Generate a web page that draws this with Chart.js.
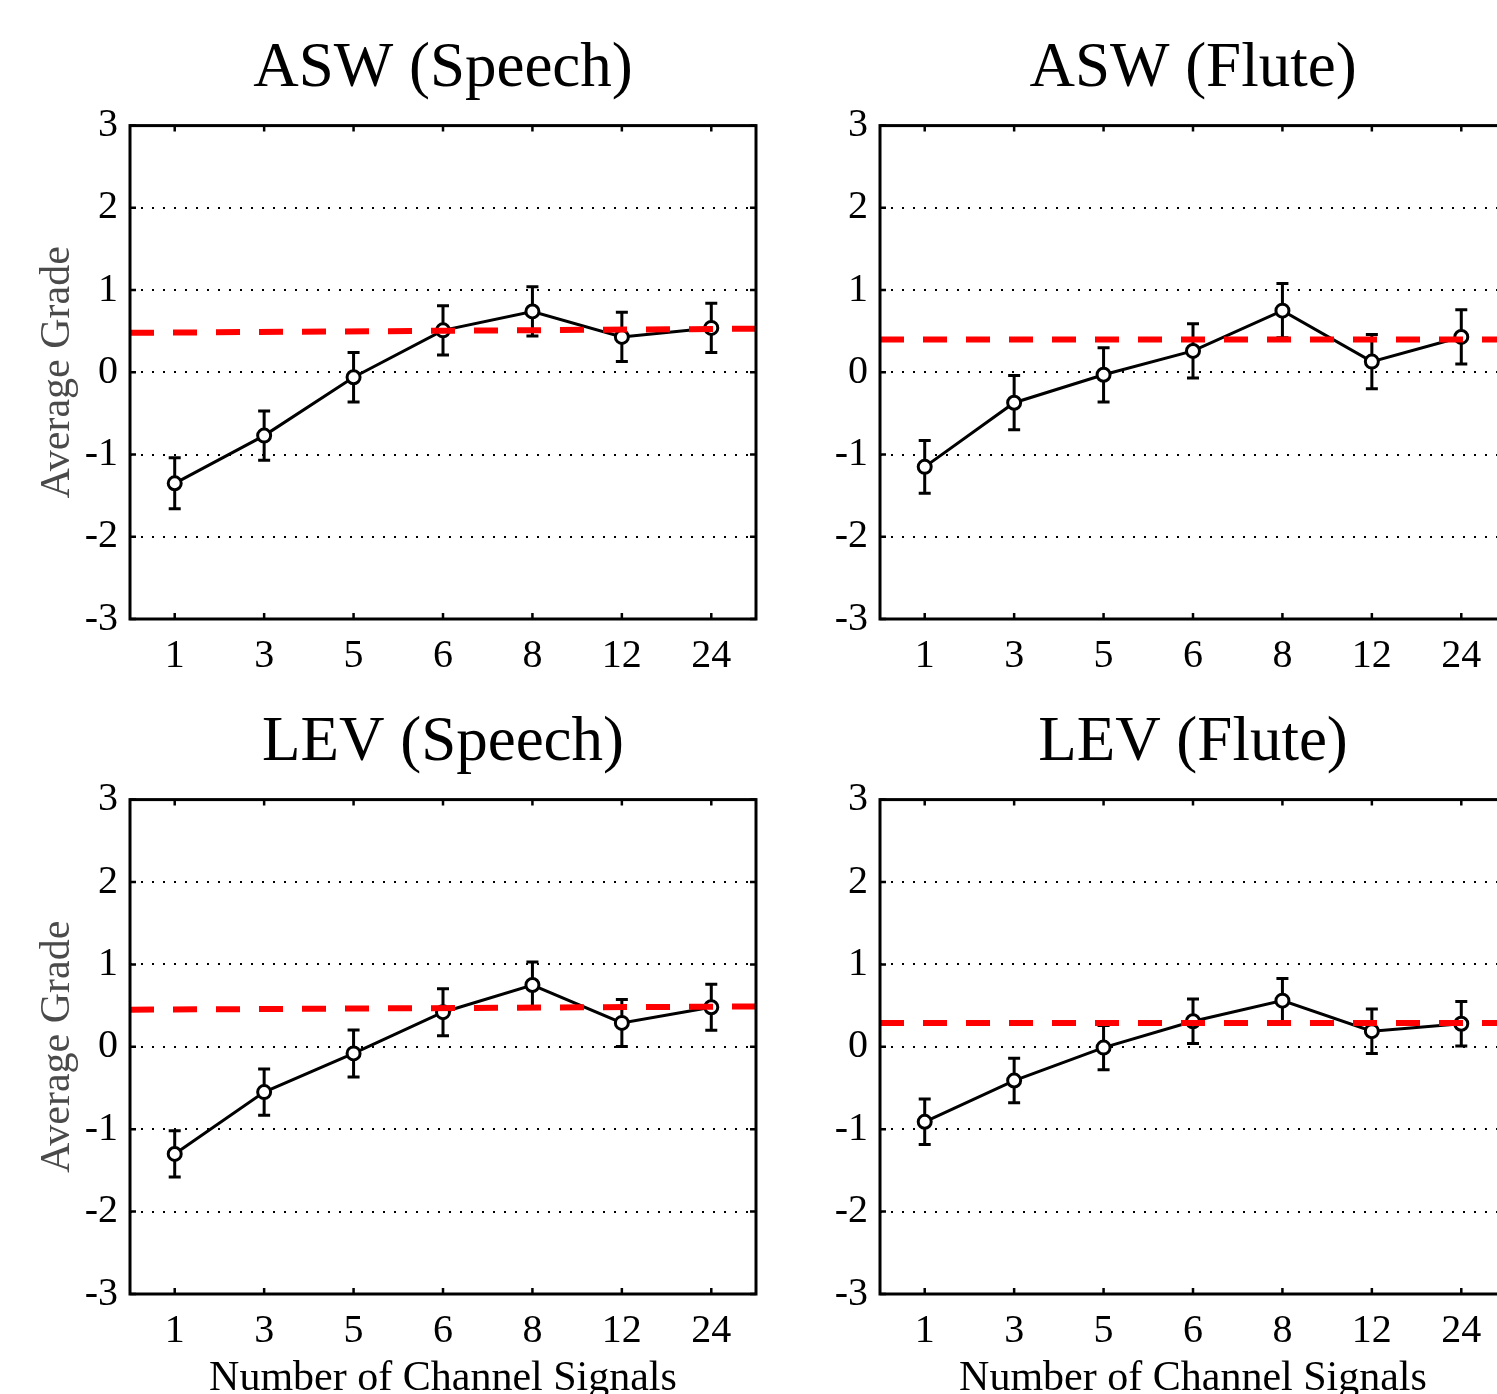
<!DOCTYPE html>
<html>
<head>
<meta charset="utf-8">
<script src="https://cdn.jsdelivr.net/npm/chart.js@4.4.0/dist/chart.umd.min.js"></script>
<style>
  html, body { margin: 0; padding: 0; background: #fff; overflow: hidden; }
  body { width: 1497px; height: 1394px; position: relative; }
  canvas { position: absolute; }
</style>
</head>
<body>
<canvas id="aswSpeech" width="770" height="674" style="left:0px;top:0px"></canvas>
<canvas id="aswFlute" width="746" height="674" style="left:770px;top:0px"></canvas>
<canvas id="levSpeech" width="770" height="740" style="left:0px;top:674px"></canvas>
<canvas id="levFlute" width="746" height="740" style="left:770px;top:674px"></canvas>
<script>
// number of channel signals (x categories)
const channels = ['1', '3', '5', '6', '8', '12', '24'];
const gradeTicks = [-3, -2, -1, 0, 1, 2, 3];

// average grades, error bar half-lengths, red reference line (left end, right end)
const aswSpeechVals = [-1.35, -0.77, -0.06, 0.51, 0.74, 0.43, 0.54];
const aswSpeechErr  = [0.31, 0.30, 0.30, 0.30, 0.30, 0.30, 0.30];
const aswSpeechRef  = [0.48, 0.53];

const aswFluteVals = [-1.15, -0.37, -0.03, 0.26, 0.75, 0.13, 0.43];
const aswFluteErr  = [0.32, 0.33, 0.33, 0.33, 0.33, 0.33, 0.33];
const aswFluteRef  = [0.40, 0.40];

const levSpeechVals = [-1.30, -0.55, -0.08, 0.42, 0.75, 0.29, 0.48];
const levSpeechErr  = [0.28, 0.28, 0.285, 0.285, 0.28, 0.285, 0.28];
const levSpeechRef  = [0.45, 0.49];

const levFluteVals = [-0.91, -0.41, -0.01, 0.31, 0.56, 0.19, 0.28];
const levFluteErr  = [0.275, 0.27, 0.27, 0.27, 0.27, 0.27, 0.27];
const levFluteRef  = [0.29, 0.29];

const serif = '"Liberation Serif", "Times New Roman", serif';

// error bars + box frame with inner ticks
const framePlugin = {
  id: 'frame',
  beforeDatasetsDraw(chart) {
    const ctx = chart.ctx;
    const ys = chart.scales.y;
    const ds = chart.data.datasets[0];
    const meta = chart.getDatasetMeta(0);
    ctx.save();
    ctx.strokeStyle = '#000';
    ctx.lineWidth = 3;
    meta.data.forEach((pt, i) => {
      const v = ds.data[i].y, e = ds.errors[i];
      const y1 = ys.getPixelForValue(v + e);
      const y2 = ys.getPixelForValue(v - e);
      ctx.beginPath();
      ctx.moveTo(pt.x, y1); ctx.lineTo(pt.x, y2);
      ctx.moveTo(pt.x - 6, y1); ctx.lineTo(pt.x + 6, y1);
      ctx.moveTo(pt.x - 6, y2); ctx.lineTo(pt.x + 6, y2);
      ctx.stroke();
    });
    ctx.restore();
  },
  afterDatasetsDraw(chart) {
    const {ctx, chartArea: a, scales} = chart;
    ctx.save();
    ctx.strokeStyle = '#000';
    ctx.lineWidth = 3;
    ctx.strokeRect(a.left, a.top, a.right - a.left, a.bottom - a.top);
    ctx.lineWidth = 2.5;
    ctx.beginPath();
    scales.x.ticks.forEach(t => {
      const x = scales.x.getPixelForValue(t.value);
      ctx.moveTo(x, a.bottom); ctx.lineTo(x, a.bottom - 6);
      ctx.moveTo(x, a.top); ctx.lineTo(x, a.top + 6);
    });
    scales.y.ticks.forEach(t => {
      const y = scales.y.getPixelForValue(t.value);
      ctx.moveTo(a.left, y); ctx.lineTo(a.left + 6, y);
      ctx.moveTo(a.right, y); ctx.lineTo(a.right - 6, y);
    });
    ctx.stroke();
    ctx.restore();
  }
};

function makePanel(id, title, vals, errs, ref, yW, xH, showY, showX) {
  new Chart(document.getElementById(id), {
    type: 'line',
    data: {
      datasets: [{
        data: vals.map((v, i) => ({x: i + 1, y: v})),
        errors: errs,
        borderColor: '#000',
        borderWidth: 3,
        pointRadius: 6.5,
        pointBorderWidth: 3,
        pointBackgroundColor: '#fff',
        pointBorderColor: '#000',
        order: 2
      }, {
        data: [{x: 0.5, y: ref[0]}, {x: 7.5, y: ref[1]}],
        borderColor: '#ff0000',
        borderWidth: 6,
        borderDash: [24, 19],
        pointRadius: 0,
        order: 1
      }]
    },
    options: {
      responsive: false,
      animation: false,
      layout: {padding: {left: 0, right: id.indexOf('Flute') >= 0 ? 10 : 14, top: 0, bottom: 0}},
      plugins: {
        legend: {display: false},
        tooltip: {enabled: false},
        title: {
          display: true, text: title, color: '#000', fullSize: false,
          font: {family: serif, size: 63, weight: 'normal'},
          padding: {top: 32, bottom: 18}
        }
      },
      scales: {
        x: {
          type: 'linear', min: 0.5, max: 7.5,
          afterBuildTicks: s => { s.ticks = channels.map((c, i) => ({value: i + 1})); },
          afterFit: s => { s.height = xH; },
          grid: {display: false, drawTicks: false},
          border: {display: false},
          ticks: {
            autoSkip: false, maxRotation: 0, padding: 13, color: '#000',
            font: {family: serif, size: 40},
            callback: v => channels[Math.round(v) - 1]
          },
          title: {
            display: showX, text: 'Number of Channel Signals', color: '#000',
            font: {family: serif, size: 42}, padding: {top: 0, bottom: 10}
          }
        },
        y: {
          min: -3, max: 3,
          afterBuildTicks: s => { s.ticks = gradeTicks.map(v => ({value: v})); },
          afterFit: s => { s.width = yW; },
          grid: {
            drawTicks: false, lineWidth: 2,
            color: c => (c.tick && Math.abs(c.tick.value) === 3) ? 'rgba(0,0,0,0)' : '#000'
          },
          border: {display: false, dash: [2, 9]},
          ticks: {padding: 12, color: '#000', font: {family: serif, size: 40}},
          title: {
            display: showY, text: 'Average Grade', color: '#4a4a4a',
            font: {family: serif, size: 42}, padding: {top: 33, bottom: 0}
          }
        }
      }
    },
    plugins: [framePlugin]
  });
}

makePanel('aswSpeech', 'ASW (Speech)', aswSpeechVals, aswSpeechErr, aswSpeechRef, 130, 55, true, false);
makePanel('aswFlute', 'ASW (Flute)', aswFluteVals, aswFluteErr, aswFluteRef, 110, 55, false, false);
makePanel('levSpeech', 'LEV (Speech)', levSpeechVals, levSpeechErr, levSpeechRef, 130, 120, true, true);
makePanel('levFlute', 'LEV (Flute)', levFluteVals, levFluteErr, levFluteRef, 110, 120, false, true);
</script>
</body>
</html>
